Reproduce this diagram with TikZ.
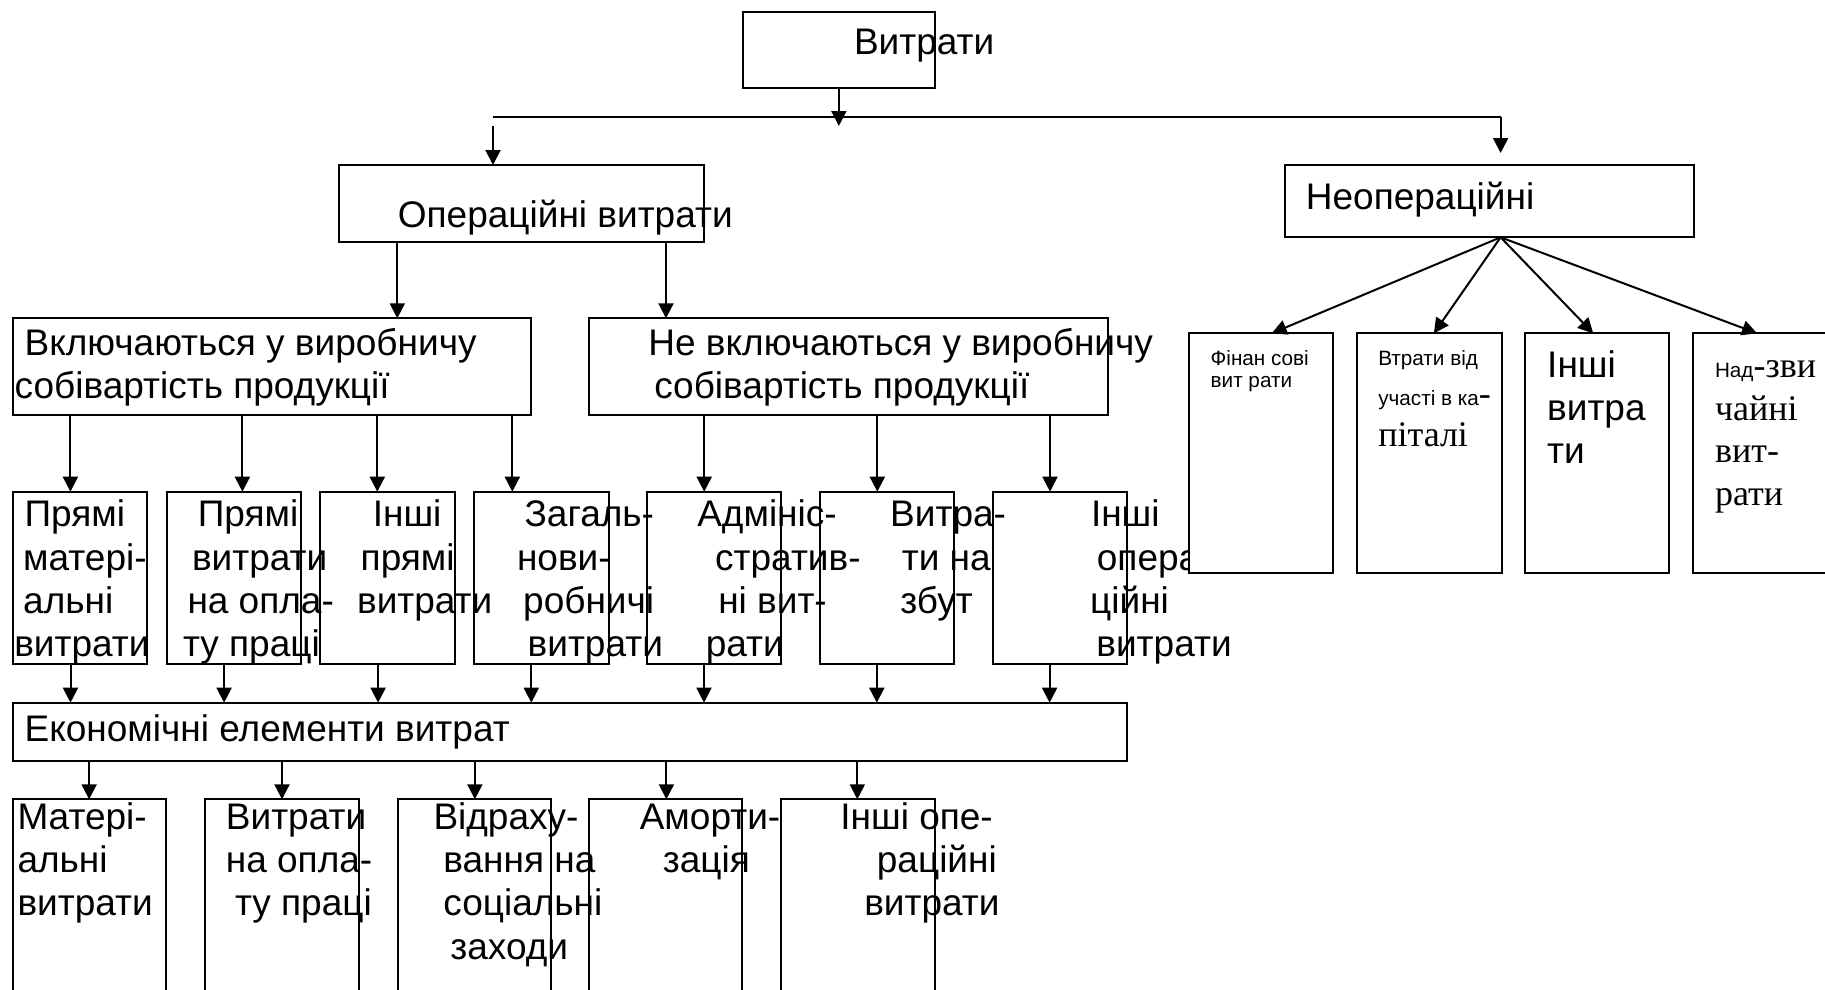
\documentclass[tikz,border=0pt]{standalone}
\usepackage{fontspec}
\setmainfont{Liberation Sans}
\newfontfamily\seriffam{Liberation Serif}
\usetikzlibrary{arrows.meta,fit}

% one text line, shifted right by #1 pt
\newcommand\tline[2]{\hbox{\kern#1pt\relax#2}}
% a stack of lines whose base is the baseline of the first line
\newcommand\tstack[2][43.3pt]{\vtop{\baselineskip=#1\relax\lineskiplimit=-\maxdimen\relax#2}}
\newcommand\smalltxt{\fontsize{20.7}{23}\selectfont}
\newcommand\serifbig{\seriffam\fontsize{36}{43}\selectfont}

\begin{document}
\begin{tikzpicture}[x=1pt,y=-1pt,
  font=\fontsize{37}{43.3}\selectfont,
  box/.style={draw, line width=2pt, inner sep=0pt, outer sep=0pt},
  solidbox/.style={box, fill=white},
  wire/.style={line width=2pt},
  arr/.style={line width=2pt, -{Triangle[length=15pt,width=15pt]}},
  txt/.style={inner sep=0pt, outer sep=0pt, anchor=base west}]
\useasboundingbox (0,0) rectangle (1825,990);

% ---------- top levels ----------
\node[box, fit={(742.7,11.7) (935,88.3)}] (top) {};
\node[txt] (ttop) at (854,55) {Витрати};

\node[box, fit={(339.2,165) (704.2,242.3)}] (op) {};
\node[txt] (top2) at (397.9,227.7) {Операційні витрати};

\node[box, fit={(1284.7,164.6) (1693.5,237.3)}] (neop) {};
\node[txt] (tneop) at (1305.9,209.7) {Неопераційні};

\coordinate (splitL) at (493,116.7);
\coordinate (splitR) at (1500.6,116.7);
\coordinate (dropL) at (493,126);
\coordinate (neopIn) at (1500.6,153);
\draw[arr] (top.south) -- ++(0,37.7);
\draw[wire] (splitL) -- (splitR);
\draw[arr] (dropL) -- (dropL |- op.north);
\draw[arr] (splitR) -- (neopIn);

% ---------- production cost split ----------
\node[box, fit={(12.9,318.3) (531,415)}] (inc) {};
\node[txt] (tinc) at (14.7,355) {\tstack{\tline{9.9}{Включаються у виробничу}\tline{0}{собівартість продукції}}};
\node[box, fit={(588.6,318.3) (1108.3,415)}] (exc) {};
\node[txt] (texc) at (648.4,355) {\tstack{\tline{0}{Не включаються у виробничу}\tline{5.9}{собівартість продукції}}};

\draw[arr] (397.3,0 |- op.south) -- (397.3,0 |- inc.north);
\draw[arr] (666,0 |- op.south) -- (666,0 |- exc.north);

% ---------- cost items ----------
\foreach \n/\a/\b in {s1/12.5/147.3, s2/166.5/301.3, s3/320.1/454.5, s4/474.1/608.5,
                      s5/647/780.8, s6/819.6/954.2, s7/992.6/1126.8}
  \node[box, fit={(\a,491.7) (\b,664.3)}] (\n) {};

\foreach \x/\n in {70.4/s1, 242.4/s2, 377.3/s3, 512.3/s4}
  \draw[arr] (\x,0 |- inc.south) -- (\x,0 |- \n.north);
\foreach \x/\n in {704.2/s5, 877.3/s6, 1050/s7}
  \draw[arr] (\x,0 |- exc.south) -- (\x,0 |- \n.north);

\node[txt] (ts1) at (14.3,526.7) {\tstack{\tline{10.3}{Прямі}\tline{8.9}{матері-}\tline{8.9}{альні}\tline{0}{витрати}}};
\node[txt] (ts2) at (183,526.7) {\tstack{\tline{14.8}{Прямі}\tline{9}{витрати}\tline{4.5}{на опла-}\tline{0}{ту праці}}};
\node[txt] (ts3) at (357.1,526.7) {\tstack{\tline{15.7}{Інші}\tline{3.6}{прямі}\tline{0}{витрати}}};
\node[txt] (ts4) at (517,526.7) {\tstack{\tline{7.6}{Загаль-}\tline{0}{нови-}\tline{6.2}{робничі}\tline{10.7}{витрати}}};
\node[txt] (ts5) at (697.3,526.7) {\tstack{\tline{0}{Адмініс-}\tline{17.9}{стратив-}\tline{21}{ні вит-}\tline{8.5}{рати}}};
\node[txt] (ts6) at (890.2,526.7) {\tstack{\tline{0}{Витра-}\tline{11.6}{ти на}\tline{10.2}{збут}}};
\node[txt] (ts7) at (1090.2,526.7) {\tstack{\tline{0.8}{Інші}\tline{6.7}{опера}\tline{0}{ційні}\tline{6.2}{витрати}}};

% ---------- economic elements ----------
\node[box, fit={(12.5,702.7) (1126.8,760.7)}] (econ) {};
\node[txt] (tecon) at (24.6,741.7) {Економічні елементи витрат};

\foreach \x/\n in {70.5/s1, 224.1/s2, 378.1/s3, 531.3/s4, 704/s5, 876.8/s6, 1049.6/s7}
  \draw[arr] (\x,0 |- \n.south) -- (\x,0 |- econ.north);

\foreach \n/\a/\b in {e1/12.6/166.3, e2/204.8/359.2, e3/397.8/550.7, e4/589.3/742.2, e5/780.8/935.1}
  \node[box, fit={(\a,799.3) (\b,1050)}] (\n) {};

\foreach \x/\n in {89.1/e1, 282/e2, 474.9/e3, 666.4/e4, 857.3/e5}
  \draw[arr] (\x,0 |- econ.south) -- (\x,0 |- \n.north);

\node[txt] (te1) at (17.5,829.3) {\tstack{\tline{0}{Матері-}\tline{0}{альні}\tline{0}{витрати}}};
\node[txt] (te2) at (225.9,829.3) {\tstack{\tline{0}{Витрати}\tline{0}{на опла-}\tline{9.1}{ту праці}}};
\node[txt] (te3) at (433.5,829.3) {\tstack{\tline{0}{Відраху-}\tline{9.9}{вання на}\tline{9.9}{соціальні}\tline{16.9}{заходи}}};
\node[txt] (te4) at (639.8,829.3) {\tstack{\tline{0}{Аморти-}\tline{23.1}{зація}}};
\node[txt] (te5) at (840.4,829.3) {\tstack{\tline{0}{Інші опе-}\tline{36.5}{раційні}\tline{23.9}{витрати}}};

% ---------- non-operating costs ----------
\foreach \n/\a/\b in {f1/1188.5/1333, f2/1357.3/1501.7, f3/1525.2/1669.3, f4/1692.8/1840}
  \node[solidbox, fit={(\a,333.3) (\b,573.3)}] (\n) {};

\coordinate (apex) at (1500.6,0 |- neop.south);
\foreach \x/\n in {1271.7/f1, 1433.9/f2, 1593.2/f3, 1757/f4}
  \draw[arr] (apex) -- (\x,0 |- \n.north);

\node[txt] (tf1) at (1210.7,365) {\smalltxt\tstack[22.5pt]{\tline{0}{Фінан сові}\tline{0}{вит рати}}};
\node[txt] (tf2) at (1378.3,365) {\tstack[40.8pt]{\tline{0}{\smalltxt Втрати від}\tline{0}{{\smalltxt участі в ка}{\serifbig -}}\tline{0}{\serifbig піталі}}};
\node[txt] (tf3) at (1547.2,377) {\tstack{\tline{0}{Інші}\tline{0}{витра}\tline{0}{ти}}};
\node[txt] (tf4) at (1715,377.7) {\tstack[42.5pt]{\tline{0}{{\smalltxt Над}{\serifbig -зви}}\tline{0}{\serifbig чайні}\tline{0}{\serifbig вит-}\tline{0}{\serifbig рати}}};
\end{tikzpicture}
\end{document}
